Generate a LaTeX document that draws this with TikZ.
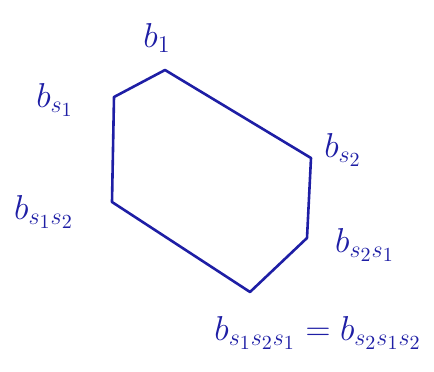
\documentclass[tikz,border=0pt]{standalone}
\begin{document}
\begin{tikzpicture}[x=1pt,y=-1pt,
  ink/.style={draw=inkblue, line width=2.6pt, line join=round, line cap=round},
  lbl/.style={text=inkblue, font=\LARGE, scale=2, inner sep=1pt}]
\definecolor{inkblue}{RGB}{30,30,165}
\useasboundingbox (0,0) rectangle (434,372);
\coordinate (v1) at (165,70);
\coordinate (vs1) at (114,97);
\coordinate (vs1s2) at (112,202);
\coordinate (vlong) at (250,292);
\coordinate (vs2s1) at (307,238);
\coordinate (vs2) at (311,158);
\draw[ink] (v1) -- (vs1) -- (vs1s2) -- (vlong) -- (vs2s1) -- (vs2) -- cycle;
\node[lbl] (l1) at (157,38) {$b_1$};
\node[lbl] (ls1) at (55,100) {$b_{s_1}$};
\node[lbl] (ls2) at (343,150) {$b_{s_2}$};
\node[lbl] (ls1s2) at (44,212) {$b_{s_1s_2}$};
\node[lbl] (ls2s1) at (365,245) {$b_{s_2s_1}$};
\node[lbl] (lbot) at (318,333) {$b_{s_1s_2s_1}=b_{s_2s_1s_2}$};
\end{tikzpicture}
\end{document}
